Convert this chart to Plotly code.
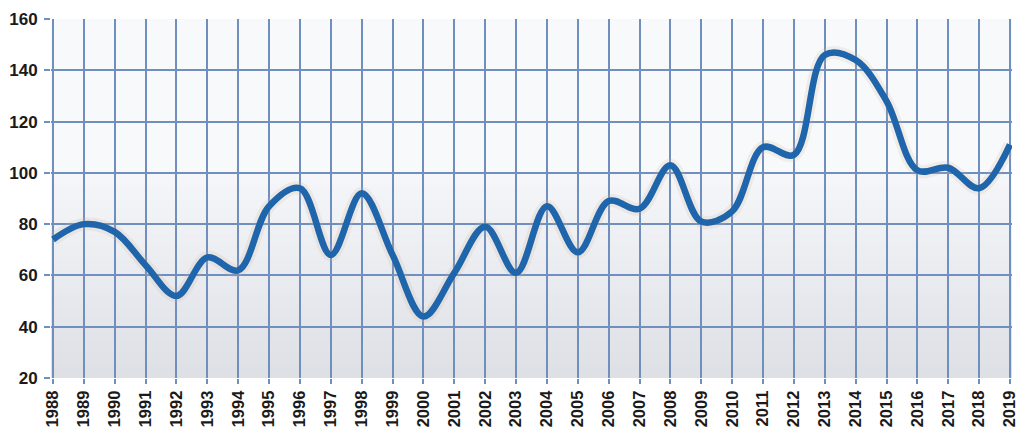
import plotly.graph_objects as go

years = list(range(1988, 2020))
values = [74, 80, 77, 64, 52, 67, 62, 87, 94, 68, 92, 68, 44, 61, 79, 61,
          87, 69, 89, 86, 103, 81, 85, 110, 107, 146, 144, 128, 101, 102, 94, 111]
y_ticks = [20, 40, 60, 80, 100, 120, 140, 160]

grid_color = "#6f8fbf"
line_color = "#1e65ab"
font_family = "Liberation Sans, Arial, sans-serif"

fig = go.Figure()

fig.add_trace(go.Scatter(
    x=years, y=values, mode="lines",
    line=dict(color="rgba(205,180,150,0.18)", width=13, shape="spline", smoothing=1.0),
    hoverinfo="skip", showlegend=False,
))
fig.add_trace(go.Scatter(
    x=years, y=values, mode="lines",
    line=dict(color=line_color, width=6.5, shape="spline", smoothing=1.0),
    showlegend=False,
))

# background gradient (white on top, light grey toward the bottom)
shapes = []
n = 40
top_frac = 0.57
for i in range(n):
    y0 = top_frac * i / n
    y1 = top_frac * (i + 1) / n
    t = 1 - (i + 0.5) / n
    r = int(246 - 24 * t)
    g = int(247 - 23 * t)
    b = int(250 - 20 * t)
    shapes.append(dict(type="rect", xref="paper", yref="y domain",
                       x0=0, x1=1, y0=y0, y1=y1 + 0.002,
                       fillcolor=f"rgb({r},{g},{b})", line=dict(width=0),
                       layer="below"))

fig.update_layout(
    width=1021, height=432,
    margin=dict(l=51, r=9, t=19, b=54),
    paper_bgcolor="white",
    plot_bgcolor="#f8f9fb",
    shapes=shapes,
    font=dict(family=font_family, color="#1a1a1a"),
    xaxis=dict(
        range=[1987.935, 2019.065], tickmode="array", tickvals=years,
        ticktext=[str(y) for y in years], tickangle=-90,
        tickfont=dict(size=16.5, family=font_family, weight="bold"),
        showgrid=True, gridcolor=grid_color, gridwidth=2,
        ticks="outside", ticklen=5, tickcolor=grid_color, tickwidth=2,
        ticklabeloverflow="allow",
        zeroline=False, showline=False, automargin=False,
    ),
    yaxis=dict(
        range=[19.99, 160.01], tickmode="array", tickvals=y_ticks,
        tickfont=dict(size=17, family=font_family, weight="bold"),
        showgrid=True, gridcolor=grid_color, gridwidth=2,
        ticks="outside", ticklen=6, tickcolor=grid_color, tickwidth=2,
        ticklabelstandoff=3, ticklabeloverflow="allow",
        zeroline=False, showline=False, automargin=False,
    ),
)

fig.write_html("out.html")
